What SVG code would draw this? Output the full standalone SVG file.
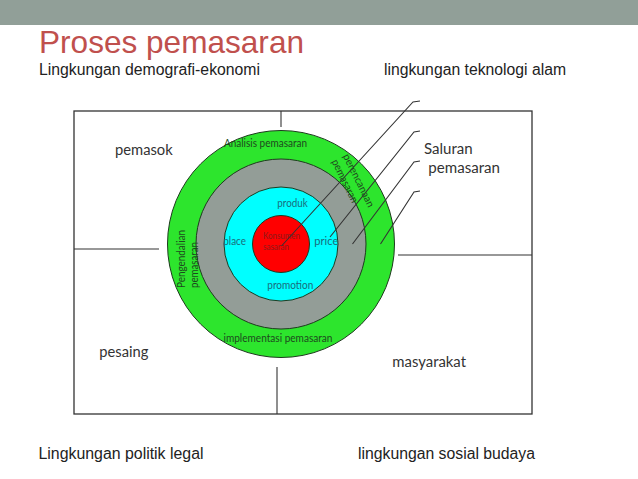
<svg xmlns="http://www.w3.org/2000/svg" width="638" height="479" viewBox="0 0 638 479">
<style>
.hdr{font-family:"Liberation Sans",Arial,sans-serif;font-size:16px;fill:#222}
.lbl{font-family:Lato,"Open Sans",sans-serif;font-size:15.5px;fill:#333}
.sg{font-family:Lato,"Open Sans",sans-serif;font-size:10.5px;fill:#1e4a1e}
.sc{font-family:Lato,"Open Sans",sans-serif;font-size:10.5px;fill:#1a6d7c}
.sr{font-family:Lato,"Open Sans",sans-serif;font-size:8.5px;fill:#8e1a1a}
.ln{fill:none;stroke:#333;stroke-width:1.1}
.ring{stroke:#1f3a1f;stroke-width:1}
</style>
<rect x="0" y="0" width="638" height="479" fill="#fff"/>
<rect x="0" y="0" width="638" height="25" fill="#919f98"/>
<text x="39" y="53" font-family="'Liberation Sans',Arial,sans-serif" font-size="32" fill="#c0504d" textLength="265" lengthAdjust="spacingAndGlyphs">Proses pemasaran</text>
<text class="hdr" x="39" y="75" textLength="221" lengthAdjust="spacingAndGlyphs">Lingkungan demografi-ekonomi</text>
<text class="hdr" x="384" y="75" textLength="182" lengthAdjust="spacingAndGlyphs">lingkungan teknologi alam</text>
<text class="hdr" x="38.5" y="459" textLength="165" lengthAdjust="spacingAndGlyphs">Lingkungan politik legal</text>
<text class="hdr" x="358" y="459" textLength="177" lengthAdjust="spacingAndGlyphs">lingkungan sosial budaya</text>

<rect x="74" y="111" width="458" height="303" fill="none" stroke="#333" stroke-width="1.3"/>

<g id="connectors">
<line class="ln" x1="74" y1="249" x2="159" y2="249"/>
<line class="ln" x1="398" y1="255" x2="532" y2="255"/>
<line class="ln" x1="281" y1="111" x2="281" y2="127"/>
<line class="ln" x1="277" y1="367" x2="277" y2="414"/>
</g>

<g id="ring-outer">
<circle class="ring" cx="281" cy="244" r="113.5" fill="#2de52d"/>
</g>
<g id="ring-gray">
<circle class="ring" cx="281" cy="244" r="85" fill="#939d97"/>
</g>
<g id="ring-cyan">
<circle class="ring" cx="281" cy="244" r="57" fill="#00ffff"/>
</g>
<g id="core">
<circle class="ring" cx="281" cy="244" r="28.5" fill="#ff0000"/>
<text class="sr" x="263" y="238.5" textLength="37" lengthAdjust="spacingAndGlyphs">Konsumen</text>
<text class="sr" x="263" y="249.5" textLength="26" lengthAdjust="spacingAndGlyphs">sasaran</text>
</g>

<g id="callouts">
<path class="ln" d="M281.5,246 L413,102 L420,101"/>
<path class="ln" d="M330,237 L414,132 L420,131"/>
<path class="ln" d="M352.5,244 L414,162 L420,161"/>
<path class="ln" d="M380.5,244 L414,192 L420,191"/>
</g>

<g id="labels-outer-ring">
<text class="sg" x="224" y="146.7" textLength="83" lengthAdjust="spacingAndGlyphs">Analisis pemasaran</text>
<text class="sg" x="223.5" y="342.3" textLength="109" lengthAdjust="spacingAndGlyphs">implementasi pemasaran</text>
<g transform="translate(185,288) rotate(-90)">
<text class="sg" x="0" y="0" textLength="58" lengthAdjust="spacingAndGlyphs">Pengendalian</text>
<text class="sg" x="0" y="12.5" textLength="46" lengthAdjust="spacingAndGlyphs">pemasaran</text>
</g>
<g transform="translate(342.8,156) rotate(64)">
<text class="sg" x="0" y="0" textLength="58" lengthAdjust="spacingAndGlyphs">perencanaan</text>
<text class="sg" x="0" y="12.5" textLength="47" lengthAdjust="spacingAndGlyphs">pemasaran</text>
</g>
</g>

<g id="labels-4p">
<text class="sc" x="277.3" y="207.3" textLength="30.4" lengthAdjust="spacingAndGlyphs">produk</text>
<text class="sc" x="223.3" y="245" textLength="22.7" lengthAdjust="spacingAndGlyphs">place</text>
<text class="sc" x="314.3" y="245" textLength="24" lengthAdjust="spacingAndGlyphs">price</text>
<text class="sc" x="267.3" y="289.3" textLength="46" lengthAdjust="spacingAndGlyphs">promotion</text>
</g>

<g id="node-pemasok"><text class="lbl" x="115" y="155" textLength="57.7" lengthAdjust="spacingAndGlyphs">pemasok</text></g>
<g id="node-saluran">
<text class="lbl" x="424" y="154.3" textLength="48.7" lengthAdjust="spacingAndGlyphs">Saluran</text>
<text class="lbl" x="428.3" y="173.3" textLength="71.7" lengthAdjust="spacingAndGlyphs">pemasaran</text>
</g>
<g id="node-pesaing"><text class="lbl" x="99.3" y="357" textLength="49" lengthAdjust="spacingAndGlyphs">pesaing</text></g>
<g id="node-masyarakat"><text class="lbl" x="392.3" y="367" textLength="73.7" lengthAdjust="spacingAndGlyphs">masyarakat</text></g>
</svg>
